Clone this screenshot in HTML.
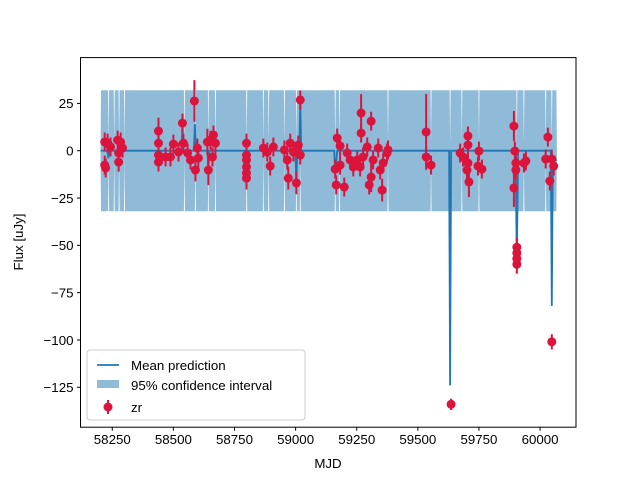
<!DOCTYPE html>
<html><head><meta charset="utf-8">
<style>
html,body{margin:0;padding:0;background:#fff;}
svg{display:block;font-family:"Liberation Sans","DejaVu Sans",sans-serif;}
</style></head>
<body>
<svg id="chart" width="640" height="480" viewBox="0 0 640 480" xmlns="http://www.w3.org/2000/svg">
<rect x="0" y="0" width="640" height="480" fill="#fff"/>
<defs><clipPath id="clip"><rect x="80.5" y="57.6" width="495.5" height="369.6"/></clipPath></defs>
<g id="plot" clip-path="url(#clip)"></g>
<g id="axes"></g>
<text x="328" y="468" font-size="13.3" text-anchor="middle">MJD</text>
<text x="23" y="242" font-size="13.3" text-anchor="middle" transform="rotate(-90 23 242)">Flux [uJy]</text>
<g>
<rect x="87" y="350" width="218" height="70" rx="3" fill="#fff" fill-opacity="0.8" stroke="#ccc"/>
<line x1="97" y1="365" x2="119" y2="365" stroke="#1f77b4" stroke-width="1.8"/>
<text x="131" y="370" font-size="13.3">Mean prediction</text>
<rect x="97" y="380" width="22" height="8" fill="#8fbbd9"/>
<text x="131" y="390" font-size="13.3">95% confidence interval</text>
<line x1="108" y1="400" x2="108" y2="414" stroke="#dc143c" stroke-width="2"/>
<circle cx="108" cy="407" r="4.5" fill="#dc143c"/>
<text x="131" y="412" font-size="13.3">zr</text>
</g>
</svg>
<script>
const xTicks=[58250,58500,58750,59000,59250,59500,59750,60000];
const yTicks=[25,0,-25,-50,-75,-100,-125];
const meanX=[58202,58230,58234,58238,58533,58537,58541,58584,58588,58592,58639,58643,58647,58999,59003,59007,59015,59019,59023,59158,59162,59166,59170,59628,59632,59636,59900,59905,59910,60044,60048,60052,60069];
const meanY=[0,0,-4,0,0,14,0,0,14,0,0,-10,0,0,-17,0,0,27,0,0,-12,-6,0,0,-124,0,0,-60,0,0,-82,-5,-5];
const bandGaps=[58235,58258,58278,58300,58545,58590,58643,58672,58800,58868,58890,58954,59003,59019,59162,59180,59378,59554,59632,59680,59750,59905,59934,60023,60048];
const bandStart=58202, bandEnd=60069, bandHalfWidth=32;
const ptX=[58219,58219,58223,58231,58243,58272,58276,58276,58284,58292,
58439,58439,58439,58439,58468,58488,58500,58521,58537,58541,
58558,58570,58586,58590,58598,58602,58639,58643,58652,58660,58664,58672,
58799,58799,58799,58799,58799,58799,58868,58884,58896,58909,
58954,58966,58970,58978,58991,59003,59011,59019,59019,
59170,59162,59166,59182,59182,59199,59211,59223,59236,59268,59268,59276,59293,59301,59309,59309,59317,59338,59354,59358,59374,59378,59252,59264,59346,
59534,59534,59554,59636,59673,59685,59705,59705,59705,59701,59709,59750,59746,59762,
59893,59897,59901,59901,59893,59934,59942,59905,59905,59905,59905,
60032,60023,60048,60056,60040,60048];
const ptY=[4.6,-7.6,-9.1,4,2,5.6,-1.2,-6,4.6,1.4,
10.4,4,-2.3,-6,-3.3,-3.3,3.5,-0.7,14.6,4,
-1.2,-4.9,26.3,-10.2,1.4,-3.9,4.6,-10.2,5.6,-3.3,8.3,4,
4,-2.3,-4.9,-8.6,-11.8,-14.5,1.4,-0.7,-8.1,2,
0.4,-4.9,-14.5,4,-0.7,-17,3,-2.3,26.8,
6.7,-9.7,-18.1,2.5,-7.6,-19.2,-1.2,-4.9,-8.6,19.9,9.3,-3.3,2,-18.1,15.6,-13.9,-4.9,1.4,-20.8,-6.5,-1.2,0.4,-4.9,-8.6,-10.2,
9.9,-3.3,-7.6,-134,-1.2,-3.3,7.8,3,-6.5,-10.2,-16.5,-0.2,-8.1,-9.7,
13,-0.2,-6.5,-10.2,-19.7,-6.5,-5.4,-51,-54,-57,-60,
7.2,-4.4,-4.4,-8.1,-16,-101];
const ptErr=[5,5,5,5,5,5,5,5,5,5,
7,5,5,5,5,5,5,5,5,5,
5,5,11,6,5,5,7,8,5,5,5,6,
5,5,5,5,5,6,5,5,5,5,
5,5,6,5,5,6,5,5,5,
5,5,5,5,5,5,5,5,5,10,5,5,5,5,5,8,5,5,6,5,5,5,5,5,5,
20,5,5,3,5,5,5,5,5,5,8,5,5,5,
8,5,5,5,10,5,5,5,5,5,5,
5,5,5,5,5,4];

const L=80.5,R=576,T=57.6,B=427.2;
const xMin=58120,xMax=60147,yMin=-146.1,yMax=49.2;
const sx=v=>L+(v-xMin)/(xMax-xMin)*(R-L);
const sy=v=>T+(yMax-v)/(yMax-yMin)*(B-T);
const NS="http://www.w3.org/2000/svg";
const plot=document.getElementById('plot'),axes=document.getElementById('axes');
function mk(tag,attrs,parent){const e=document.createElementNS(NS,tag);for(const k in attrs)e.setAttribute(k,attrs[k]);parent.appendChild(e);return e;}
// band (centered on zero, narrowing at gaps)
const bx=[bandStart],bh=[0];
bx.push(bandStart+2);bh.push(bandHalfWidth);
bandGaps.forEach(g=>{bx.push(g-2);bh.push(bandHalfWidth);bx.push(g);bh.push(4);bx.push(g+2);bh.push(bandHalfWidth);});
bx.push(bandEnd-2);bh.push(bandHalfWidth);bx.push(bandEnd);bh.push(0);
let up=[],dn=[];
for(let i=0;i<bx.length;i++){up.push(sx(bx[i]).toFixed(1)+','+sy(bh[i]).toFixed(1));dn.push(sx(bx[i]).toFixed(1)+','+sy(-bh[i]).toFixed(1));}
const band=mk('polygon',{points:up.concat(dn.reverse()).join(' '),fill:'#8fbbd9'},plot);


// mean line
const mpts=meanX.map((x,i)=>sx(x).toFixed(1)+','+sy(meanY[i]).toFixed(1)).join(' ');
const ml=mk('polyline',{points:mpts,fill:'none',stroke:'#1f77b4','stroke-width':1.8},plot);


// points
ptX.forEach((x,i)=>{
 const g=mk('g',{},plot);
 
 
 mk('line',{x1:sx(x),x2:sx(x),y1:sy(ptY[i]+ptErr[i]),y2:sy(ptY[i]-ptErr[i]),stroke:'#dc143c','stroke-width':2},g);
 mk('circle',{cx:sx(x),cy:sy(ptY[i]),r:4.5,fill:'#dc143c'},g);
});
// frame
const fr=mk('rect',{x:L,y:T,width:R-L,height:B-T,fill:'none',stroke:'#000','stroke-width':1},axes);


xTicks.forEach(t=>{
 const x=sx(t);
 const tk=mk('line',{x1:x,x2:x,y1:B,y2:B+3.5,stroke:'#000'},axes);
 
 
 const tx=mk('text',{x:x,y:B+17,'font-size':13.3,'text-anchor':'middle'},axes);
 tx.textContent=t;
 
 
});
yTicks.forEach(t=>{
 const y=sy(t);
 const tk=mk('line',{x1:L-3.5,x2:L,y1:y,y2:y,stroke:'#000'},axes);
 
 
 const tx=mk('text',{x:L-7,y:y+4.8,'font-size':13.3,'text-anchor':'end'},axes);
 tx.textContent=t<0?'\u2212'+(-t):String(t);
 
 
});
</script>
</body></html>
